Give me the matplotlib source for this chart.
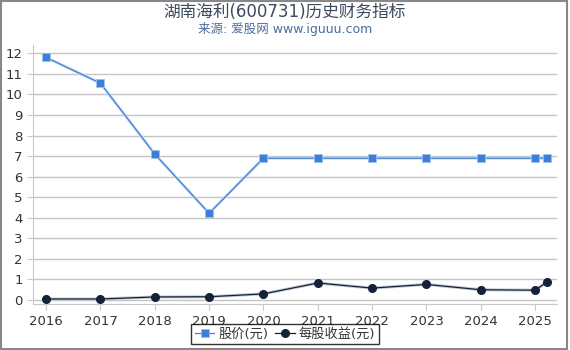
import matplotlib
matplotlib.use("Agg")
import matplotlib.pyplot as plt
from matplotlib.patches import Rectangle

plt.rcParams['font.family'] = ['DejaVu Sans', 'Noto Sans CJK SC']

# data
years = [2016, 2017, 2018, 2019, 2020, 2021, 2022, 2023, 2024, 2025, 2025.22]
price = [11.8, 10.55, 7.1, 4.22, 6.9, 6.9, 6.9, 6.9, 6.9, 6.9, 6.9]
eps = [0.05, 0.05, 0.15, 0.16, 0.3, 0.83, 0.58, 0.76, 0.5, 0.48, 0.88]
xticks = list(range(2016, 2026))
yticks = list(range(0, 13))

fig = plt.figure(figsize=(5.7, 3.5), dpi=100)
ax = fig.add_axes([0.058, 0.131, 0.919, 0.74])

ax.plot(years, price, color='#cfdff3', lw=2.2, zorder=2)
ax.plot(years, price, color='#3a80d8', lw=0.9, marker='s', ms=5.5,
        mfc='#3a80d8', mec='#9fc0ea', mew=0.6, label='股价(元)', zorder=3)
ax.plot(years, eps, color='#c5cbd3', lw=2.2, zorder=2)
ax.plot(years, eps, color='#13223a', lw=0.9, marker='o', ms=5.5,
        mfc='#13223a', mec='#13223a', label='每股收益(元)', zorder=3)

ax.set_xlim(2015.76, 2025.4)
ax.set_ylim(-0.2, 12.4)
ax.set_xticks(xticks)
ax.set_xticklabels([str(y) for y in xticks])
ax.set_yticks(yticks)
ax.grid(axis='y', color='#c4c4c4', lw=1)
ax.set_axisbelow(True)
for s in ['top', 'right']:
    ax.spines[s].set_visible(False)
for s in ['left', 'bottom']:
    ax.spines[s].set_color('#c8c8c8')
ax.tick_params(axis='both', colors='#c8c8c8', labelcolor='#333333',
               labelsize=9.5, length=4)

fig.text(0.5, 0.966, '湖南海利(600731)历史财务指标', ha='center', va='center',
         fontsize=12, color='#3b4a5c')
fig.text(0.5, 0.918, '来源: 爱股网 www.iguuu.com', ha='center', va='center',
         fontsize=9, color='#4c6c9c')

leg = fig.legend(loc='lower center', bbox_to_anchor=(0.5, -0.003), ncol=2,
                 frameon=True, fancybox=False, edgecolor='black',
                 fontsize=9.5, handlelength=1.5, handletextpad=0.3,
                 columnspacing=0.5, borderpad=0.3)
leg.get_frame().set_linewidth(1)
for t in leg.get_texts():
    t.set_color('#333333')

fig.patches.append(Rectangle((0.001, 0.004), 0.993, 0.994, transform=fig.transFigure,
                             fill=False, edgecolor='#888888', lw=1.5))

fig.savefig('out.png', dpi=100)
